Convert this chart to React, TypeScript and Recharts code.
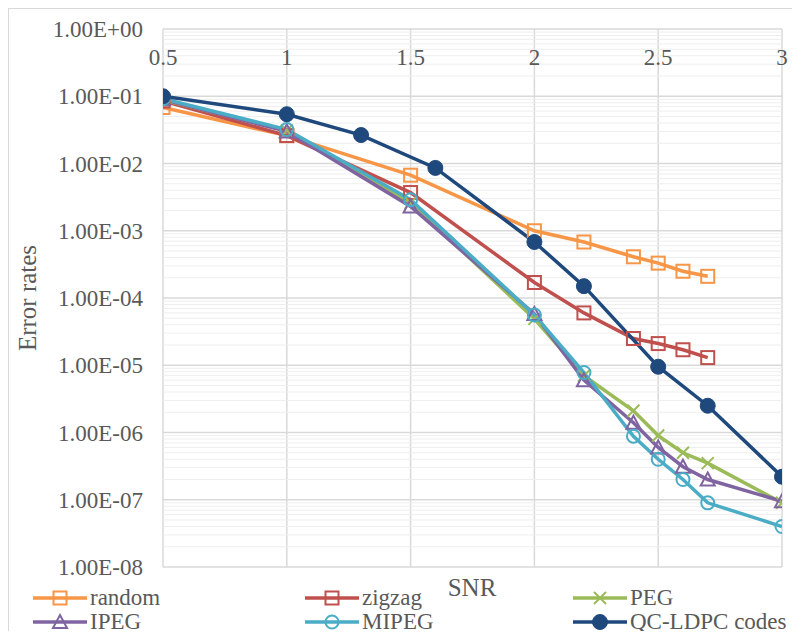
import React from 'react';
import { LineChart, Line, XAxis, YAxis, CartesianGrid, ReferenceLine } from 'recharts';

// SNR values (x) and error rates (y)
const snrRandom = [0.5, 1, 1.5, 2, 2.2, 2.4, 2.5, 2.6, 2.7];
const errRandom = [6.8e-2, 2.6e-2, 6.7e-3, 1.0e-3, 6.8e-4, 4.1e-4, 3.3e-4, 2.5e-4, 2.1e-4];

const snrZigzag = [0.5, 1, 1.5, 2, 2.2, 2.4, 2.5, 2.6, 2.7];
const errZigzag = [8.5e-2, 2.6e-2, 3.7e-3, 1.7e-4, 6.0e-5, 2.5e-5, 2.1e-5, 1.7e-5, 1.3e-5];

const snrPeg = [0.5, 1, 1.5, 2, 2.2, 2.4, 2.5, 2.6, 2.7, 3];
const errPeg = [8.8e-2, 3.1e-2, 2.6e-3, 4.9e-5, 7.0e-6, 2.1e-6, 9.0e-7, 5.0e-7, 3.5e-7, 9.0e-8];

const snrIpeg = [0.5, 1, 1.5, 2, 2.2, 2.4, 2.5, 2.6, 2.7, 3];
const errIpeg = [9.0e-2, 3.0e-2, 2.3e-3, 5.8e-5, 6.0e-6, 1.4e-6, 6.0e-7, 3.1e-7, 2.0e-7, 9.5e-8];

const snrMipeg = [0.5, 1, 1.5, 2, 2.2, 2.4, 2.5, 2.6, 2.7, 3];
const errMipeg = [9.2e-2, 3.2e-2, 2.9e-3, 5.6e-5, 7.8e-6, 8.8e-7, 4.0e-7, 2.0e-7, 9.0e-8, 4.0e-8];

const snrQc = [0.5, 1, 1.3, 1.6, 2, 2.2, 2.5, 2.7, 3];
const errQc = [1.0e-1, 5.4e-2, 2.65e-2, 8.6e-3, 6.8e-4, 1.5e-4, 9.5e-6, 2.5e-6, 2.2e-7];

const xTicks = [0.5, 1, 1.5, 2, 2.5, 3];
const yTicks = [1e-8, 1e-7, 1e-6, 1e-5, 1e-4, 1e-3, 1e-2, 1e-1, 1];

const minorTicks: number[] = [];
for (let e = -8; e < 0; e++) {
  for (let m = 2; m <= 9; m++) minorTicks.push(m * Math.pow(10, e));
}

const toRows = (xs: number[], ys: number[]) => xs.map((x, i) => ({ x, y: ys[i] }));

type Shape = 'square' | 'cross' | 'triangle' | 'circle' | 'dot';

const series = [
  { name: 'random', color: '#F79646', shape: 'square' as Shape, data: toRows(snrRandom, errRandom) },
  { name: 'zigzag', color: '#C0504D', shape: 'square' as Shape, data: toRows(snrZigzag, errZigzag) },
  { name: 'PEG', color: '#9BBB59', shape: 'cross' as Shape, data: toRows(snrPeg, errPeg) },
  { name: 'IPEG', color: '#8064A2', shape: 'triangle' as Shape, data: toRows(snrIpeg, errIpeg) },
  { name: 'MIPEG', color: '#4BACC6', shape: 'circle' as Shape, data: toRows(snrMipeg, errMipeg) },
  { name: 'QC-LDPC codes', color: '#1F497D', shape: 'dot' as Shape, data: toRows(snrQc, errQc) },
];

const FONT = '"Liberation Serif", "Times New Roman", serif';
const TEXT = '#595959';

const Marker = ({ cx, cy, shape, color }: { cx: number; cy: number; shape: Shape; color: string }) => {
  if (shape === 'square') {
    return <rect x={cx - 6.5} y={cy - 6.5} width={13} height={13} fill="none" stroke={color} strokeWidth={2} />;
  }
  if (shape === 'cross') {
    return (
      <path d={`M${cx - 6},${cy - 6}L${cx + 6},${cy + 6}M${cx + 6},${cy - 6}L${cx - 6},${cy + 6}`} stroke={color} strokeWidth={2} />
    );
  }
  if (shape === 'triangle') {
    return (
      <path d={`M${cx},${cy - 7}L${cx + 7},${cy + 6}L${cx - 7},${cy + 6}Z`} fill="none" stroke={color} strokeWidth={2} />
    );
  }
  if (shape === 'circle') {
    return <circle cx={cx} cy={cy} r={6.5} fill="none" stroke={color} strokeWidth={2} />;
  }
  return <circle cx={cx} cy={cy} r={7.5} fill={color} stroke={color} strokeWidth={1} />;
};

const fmtExp = (v: number) => {
  const e = Math.round(Math.log10(v));
  return '1.00E' + (e < 0 ? '-' : '+') + String(Math.abs(e)).padStart(2, '0');
};

const XTick = (props: any) => {
  const { x, y, payload } = props;
  return (
    <text x={x} y={y + 28} textAnchor="middle" dominantBaseline="central" fill={TEXT} fontSize={23} fontFamily={FONT}>
      {payload.value}
    </text>
  );
};

const legendCols = [24, 296, 564];
const legendRows = [589, 613];

export default function App() {
  return (
    <div
      style={{
        position: 'relative',
        width: 792,
        height: 623,
        boxSizing: 'border-box',
        borderLeft: '1px solid #d9d9d9',
        borderTop: '1px solid #d9d9d9',
        background: '#fff',
        fontFamily: FONT,
      }}
    >
      <LineChart width={791} height={622} margin={{ top: 0, right: 18, left: 0, bottom: 64 }}>
        <CartesianGrid stroke="#d9d9d9" strokeWidth={1.5} />
        {minorTicks.map((v) => (
          <ReferenceLine key={v} y={v} stroke="#eeeeee" strokeWidth={1} />
        ))}
        <XAxis
          type="number"
          dataKey="x"
          orientation="top"
          height={20}
          domain={[0.5, 3]}
          ticks={xTicks}
          allowDataOverflow
          axisLine={false}
          tickLine={false}
          tickSize={0}
          tickMargin={0}
          tick={<XTick />}
        />
        <YAxis
          type="number"
          dataKey="y"
          scale="log"
          domain={[1e-8, 1]}
          ticks={yTicks}
          allowDataOverflow
          width={154}
          axisLine={false}
          tickLine={false}
          tickSize={6}
          tickMargin={14}
          tickFormatter={fmtExp}
          tick={{ fill: TEXT, fontSize: 23, fontFamily: FONT }}
        />
        {series.map((s) => (
          <Line
            key={s.name}
            data={s.data}
            dataKey="y"
            name={s.name}
            stroke={s.color}
            strokeWidth={3.5}
            isAnimationActive={false}
            activeDot={false}
            dot={(p: any) => (
              <Marker key={`${s.name}-${p.index}`} cx={p.cx} cy={p.cy} shape={s.shape} color={s.color} />
            )}
          />
        ))}
      </LineChart>

      {/* axis titles */}
      <div
        style={{
          position: 'absolute',
          left: 19,
          top: 289,
          transform: 'translate(-50%, -50%) rotate(-90deg)',
          fontSize: 25,
          color: TEXT,
          whiteSpace: 'nowrap',
        }}
      >
        Error rates
      </div>
      <div
        style={{
          position: 'absolute',
          left: 463,
          top: 579,
          transform: 'translate(-50%, -50%)',
          fontSize: 25,
          color: TEXT,
          whiteSpace: 'nowrap',
        }}
      >
        SNR
      </div>

      {/* legend, 3 columns x 2 rows */}
      {series.map((s, i) => (
        <div
          key={s.name}
          style={{
            position: 'absolute',
            left: legendCols[i % 3],
            top: legendRows[Math.floor(i / 3)] - 11,
            height: 22,
            display: 'flex',
            alignItems: 'center',
            whiteSpace: 'nowrap',
          }}
        >
          <svg width={54} height={22} style={{ display: 'block' }}>
            <line x1={0} y1={11} x2={54} y2={11} stroke={s.color} strokeWidth={3.5} />
            <Marker cx={27} cy={11} shape={s.shape} color={s.color} />
          </svg>
          <span style={{ fontSize: 23, color: TEXT, marginLeft: 3, lineHeight: '22px' }}>{s.name}</span>
        </div>
      ))}
    </div>
  );
}
